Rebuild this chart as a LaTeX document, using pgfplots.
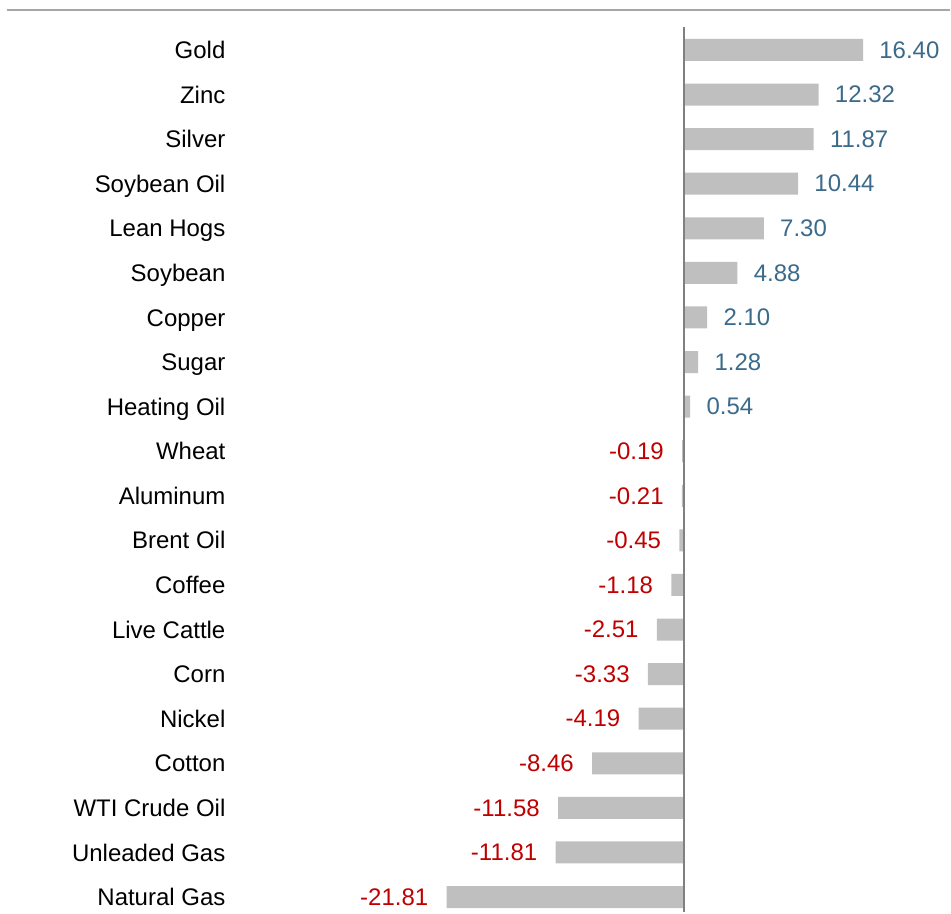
\documentclass[border=0pt]{standalone}
\usepackage{fontspec}
\setmainfont{Liberation Sans}
\usepackage{pgfplots}
\pgfplotsset{compat=1.18}
\definecolor{bargray}{HTML}{BFBFBF}
\definecolor{posblue}{HTML}{3B6A8A}
\definecolor{negred}{HTML}{C00000}
\begin{document}
\fontsize{12}{14}\selectfont
\begin{tikzpicture}
\path (-116pt,0pt) rectangle (359.5pt,456.5pt);
\begin{axis}[
  at={(0pt,0pt)}, anchor=south west,
  scale only axis,
  width=359.5pt, height=443pt,
  xmin=-41.52, xmax=24.38,
  ymin=-0.515, ymax=19.336,
  y dir=reverse,
  hide x axis,
  y axis line style={draw=none},
  ytick={0,...,19},
  yticklabels={Gold,Zinc,Silver,Soybean Oil,Lean Hogs,Soybean,Copper,Sugar,Heating Oil,Wheat,Aluminum,Brent Oil,Coffee,Live Cattle,Corn,Nickel,Cotton,WTI Crude Oil,Unleaded Gas,Natural Gas},
  ytick style={draw=none},
  major tick length=0pt,
  yticklabel style={anchor=east, inner sep=0pt, xshift=-3pt, text height=8.6pt, text depth=0pt, font=\fontsize{12}{14}\selectfont},
  xbar, bar width=11pt, bar shift=0pt,
  clip=false,
  point meta=x,
  nodes near coords,
  /pgf/number format/.cd, fixed, fixed zerofill, precision=2, assume math mode=true,
]
\addplot[fill=bargray, draw=none,
  every node near coord/.style={anchor=west, inner sep=0pt, xshift=8pt, text=posblue, font=\fontsize{12}{14}\selectfont}]
  coordinates {(16.40,0) (12.32,1) (11.87,2) (10.44,3) (7.30,4) (4.88,5) (2.10,6) (1.28,7) (0.54,8)};
\addplot[fill=bargray, draw=none,
  every node near coord/.style={anchor=east, inner sep=0pt, xshift=-9pt, text=negred, font=\fontsize{12}{14}\selectfont}]
  coordinates {(-0.19,9) (-0.21,10) (-0.45,11) (-1.18,12) (-2.51,13) (-3.33,14) (-4.19,15) (-8.46,16) (-11.58,17) (-11.81,18) (-21.81,19)};
\draw[color=gray, line width=1pt] (axis cs:0,-0.515) -- (axis cs:0,19.336);
\end{axis}
\draw[color=black!35, line width=1pt] (-112.5pt,451.5pt) -- (359.5pt,451.5pt);
\end{tikzpicture}
\end{document}
